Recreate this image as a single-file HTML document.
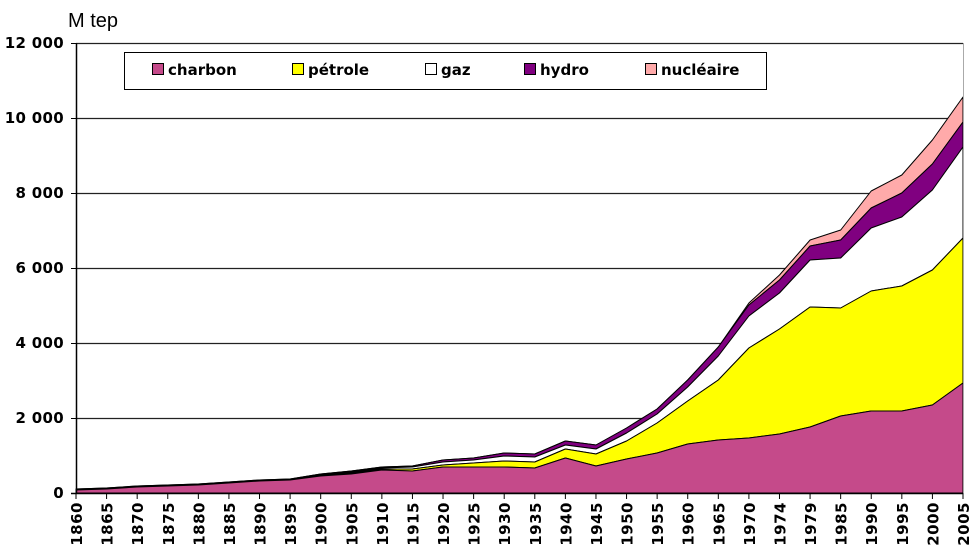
<!DOCTYPE html>
<html><head><meta charset="utf-8"><style>
body{margin:0;background:#fff;}
svg{display:block;font-family:"DejaVu Sans","Liberation Sans",sans-serif;}
</style></head><body>
<svg id="s" width="977" height="560" viewBox="0 0 977 560" xmlns="http://www.w3.org/2000/svg">
<rect width="977" height="560" fill="#fff"/>
<text x="68" y="27" font-size="20" font-family="Liberation Sans, sans-serif">M tep</text>
<g id="grid" stroke="#222" stroke-width="1.2"></g>
<g id="areas"></g>
<g id="axes"></g>
<rect x="124.5" y="52.5" width="642" height="37" fill="#fff" stroke="#000"/>
<g font-size="15" font-weight="bold">
<rect x="152.5" y="63.5" width="11" height="11" fill="#c54a8a" stroke="#000"/><text x="168" y="75">charbon</text>
<rect x="292.5" y="63.5" width="11" height="11" fill="#ffff00" stroke="#000"/><text x="308" y="75">pétrole</text>
<rect x="425.5" y="63.5" width="11" height="11" fill="#fff" stroke="#000"/><text x="441" y="75">gaz</text>
<rect x="524.5" y="63.5" width="11" height="11" fill="#800080" stroke="#000"/><text x="540" y="75">hydro</text>
<rect x="645.5" y="63.5" width="11" height="11" fill="#ffaaaa" stroke="#000"/><text x="661" y="75">nucléaire</text>
</g>
</svg>
<script>
var years=[1860,1865,1870,1875,1880,1885,1890,1895,1900,1905,1910,1915,1920,1925,1930,1935,1940,1945,1950,1955,1960,1965,1970,1974,1979,1985,1990,1995,2000,2005];
var coal=[490,489,487,486,485,483,481,480,476,474,470,471,467,467,467,468,458,466,459,453,444,440,438,434,427,416,411,411,405,383];
var oil =[490,489,487,486,485,483,481,480,476,473,469,469,465,463,461,462,449,454,441,423,401,380,348,329,307,308,291,286,270,238];
var gas =[490,489,487,486,485,483,481,480,475,472,468,467,462,460,456,457,445,449,433,414,387,356,316,293,260,258,228,217,190,147];
var hyd =[489,488,486,485,484,482,480,479,474,471,467,466,460,458,453,454,441,445,428,409,380,347,305,280,246,240,208,193,164,122];
var nuc =[489,488,486,485,484,482,480,479,474,471,467,466,460,458,453,454,441,445,428,409,380,347,303,275,240,230,191,175,140,97];
var X=function(i){return 76+i*(963-76)/29;};
var NS="http://www.w3.org/2000/svg";
function el(t,a,p){var e=document.createElementNS(NS,t);for(var k in a)e.setAttribute(k,a[k]);(p||document.getElementById('s')).appendChild(e);return e;}
var g=document.getElementById('grid');
for(var v=1;v<=6;v++){var y=493-v*75;el('line',{x1:76,x2:963,y1:y+.5,y2:y+.5},g);}
var ar=document.getElementById('areas');
function band(top,bot,fill){var p=[];for(var i=0;i<30;i++)p.push(X(i).toFixed(1)+','+top[i]);for(var i=29;i>=0;i--)p.push(X(i).toFixed(1)+','+(bot?bot[i]:493));el('polygon',{points:p.join(' '),fill:fill,stroke:'#000','stroke-width':1,'stroke-linejoin':'round'},ar);}
band(nuc,hyd,'#ffaaaa');band(hyd,gas,'#800080');band(gas,oil,'#ffffff');band(oil,coal,'#ffff00');band(coal,null,'#c54a8a');
var ax=document.getElementById('axes');
el('line',{x1:76.5,x2:76.5,y1:43,y2:493,stroke:'#000','stroke-width':1.5},ax);
el('line',{x1:963.5,x2:963.5,y1:43,y2:493,stroke:'#aaa','stroke-width':1},ax);
el('line',{x1:71,x2:963,y1:493.5,y2:493.5,stroke:'#000','stroke-width':1.5},ax);
var labs=['0','2 000','4 000','6 000','8 000','10 000','12 000'];
for(var v=0;v<=6;v++){var y=493-v*75;el('line',{x1:71,x2:76,y1:y+.5,y2:y+.5,stroke:'#000'},ax);var t=el('text',{x:64,y:y+5,'text-anchor':'end','font-size':15,'font-weight':'bold','letter-spacing':'0.3'},ax);t.textContent=labs[v];}
for(var i=0;i<30;i++){var x=X(i);el('line',{x1:x,x2:x,y1:493,y2:499,stroke:'#000'},ax);var t=el('text',{x:0,y:0,'font-size':15,'font-weight':'bold','text-anchor':'end','letter-spacing':'0.5',transform:'translate('+(x+6)+',502) rotate(-90)'},ax);t.textContent=years[i];}
</script>
</body></html>
